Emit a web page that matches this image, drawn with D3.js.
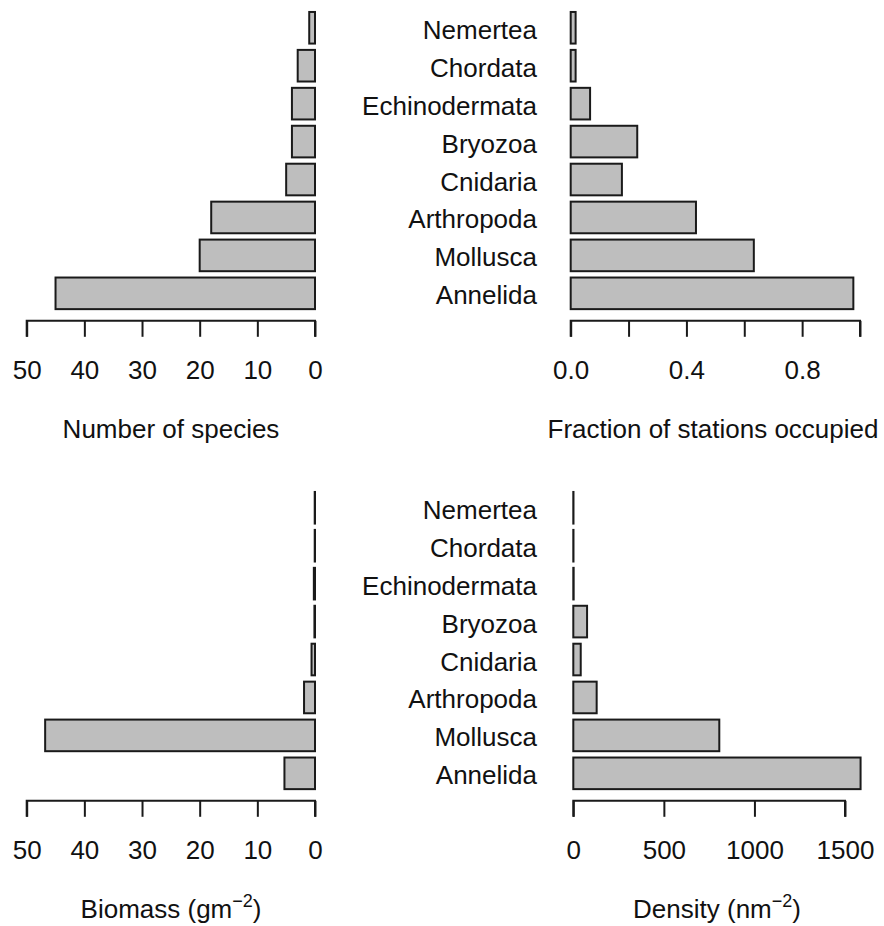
<!DOCTYPE html>
<html>
<head>
<meta charset="utf-8">
<script src="https://cdn.jsdelivr.net/npm/d3@7"></script>
<style>
  html, body { margin: 0; padding: 0; background: #fff; }
  svg text { font-family: Arial, "Liberation Sans", Helvetica, sans-serif; fill: #111; }
</style>
</head>
<body>
<svg id="chart" width="884" height="926"></svg>
<script>
// Phyla, listed from top row to bottom row
const phyla = ["Nemertea", "Chordata", "Echinodermata", "Bryozoa", "Cnidaria", "Arthropoda", "Mollusca", "Annelida"];

// Values per phylum, same order as above
const speciesCount = [1, 3, 4, 4, 5, 18, 20, 45];
const stationFraction = [0.017, 0.017, 0.067, 0.23, 0.177, 0.433, 0.633, 0.977];
const biomass = [0.05, 0.05, 0.2, 0.1, 0.6, 1.9, 46.8, 5.3];
const density = [1, 1, 2, 76, 41, 129, 806, 1586];

// Axis ticks and labels
const speciesTicks = [50, 40, 30, 20, 10, 0];
const fractionTicks = [0, 0.2, 0.4, 0.6, 0.8, 1.0];
const fractionLabels = ["0.0", "", "0.4", "", "0.8", ""];
const biomassTicks = [50, 40, 30, 20, 10, 0];
const densityTicks = [0, 500, 1000, 1500];

const svg = d3.select("#chart");
const FONT = 26;

function panel(opts) {
  const g = svg.append("g");
  const x = d3.scaleLinear().domain(opts.domain).range(opts.xRange);
  const y = d3.scaleBand().domain(phyla)
    .range([opts.top, opts.top + 303.5])
    .paddingInner(1 / 6).paddingOuter(1 / 12);

  const rows = phyla.map((p, i) => ({ name: p, v: opts.values[i] }));

  g.selectAll("rect.bar").data(rows).enter().append("rect")
    .attr("class", "bar")
    .attr("x", d => Math.min(x(0), x(d.v)))
    .attr("width", d => Math.abs(x(d.v) - x(0)))
    .attr("y", d => y(d.name))
    .attr("height", y.bandwidth())
    .attr("fill", "#bebebe")
    .attr("stroke", "#1a1a1a")
    .attr("stroke-width", 2);

  // bottom axis
  const axisY = opts.top + 312;
  const axis = d3.axisBottom(x).tickValues(opts.ticks)
    .tickSize(16).tickPadding(0)
    .tickFormat((d, i) => opts.tickLabels ? opts.tickLabels[i] : d3.format("d")(d));
  const ag = g.append("g").attr("transform", `translate(0,${axisY})`).call(axis);
  ag.attr("font-family", null).attr("font-size", null);
  ag.select(".domain").attr("d", `M${x(opts.ticks[0])},16V0H${x(opts.ticks[opts.ticks.length - 1])}V16`)
    .attr("stroke", "#1a1a1a").attr("stroke-width", 2).attr("fill", "none");
  ag.selectAll(".tick line").attr("stroke", "#1a1a1a").attr("stroke-width", 2);
  ag.selectAll(".tick text")
    .attr("font-size", FONT).attr("fill", "#111")
    .attr("y", 58).attr("dy", null);

  // axis title
  const title = g.append("text")
    .attr("x", opts.titleX)
    .attr("y", axisY + 117)
    .attr("text-anchor", "middle")
    .attr("font-size", FONT);
  title.append("tspan").text(opts.title);
  if (opts.sup) {
    title.append("tspan").attr("dy", -11).attr("font-size", 18).text(opts.sup);
    title.append("tspan").attr("dy", 11).text(")");
  }

  // phylum names, right-aligned in the middle gutter
  if (opts.names) {
    g.selectAll("text.name").data(phyla).enter().append("text")
      .attr("class", "name")
      .attr("x", 537)
      .attr("y", d => y(d) + y.bandwidth() / 2 + 11)
      .attr("text-anchor", "end")
      .attr("font-size", FONT)
      .text(d => d);
  }
}

panel({ values: speciesCount, domain: [50, 0], xRange: [26.7, 315], top: 8.8,
  ticks: speciesTicks, title: "Number of species", titleX: 171 });
panel({ values: stationFraction, domain: [0, 1], xRange: [570.7, 860], top: 8.8,
  ticks: fractionTicks, tickLabels: fractionLabels, title: "Fraction of stations occupied", titleX: 713, names: true });
panel({ values: biomass, domain: [50, 0], xRange: [26.7, 315], top: 488.8,
  ticks: biomassTicks, title: "Biomass (gm", sup: "\u22122", titleX: 171 });
panel({ values: density, domain: [0, 1500], xRange: [573.3, 845], top: 488.8,
  ticks: densityTicks, title: "Density (nm", sup: "\u22122", titleX: 717, names: true });
</script>
</body>
</html>
